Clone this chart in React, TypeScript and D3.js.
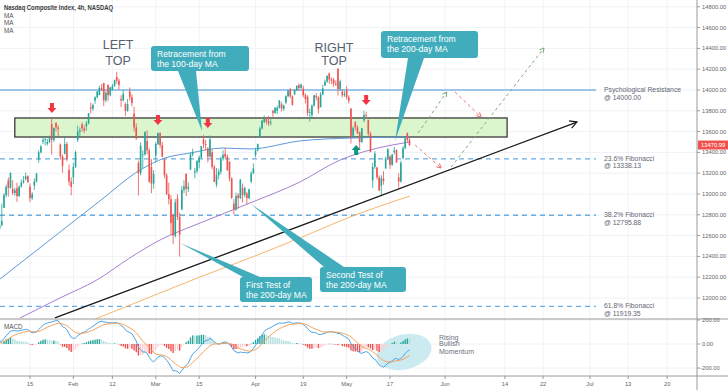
import React from "react";
import * as d3 from "d3";

type Bar = [number, number, number, number]; // open, high, low, close
type Pt = [number, number]; // trading day index, price

// 4h bars, two per trading session (morning / afternoon), Jan 4 -> May 21 2021
const janBars: Bar[] = [
  [12958, 12958, 12600, 12640], [12640, 12720, 12543, 12698],
  [12665, 12760, 12665, 12740], [12740, 12828, 12720, 12818],
  [12667, 12800, 12649, 12700], [12700, 12909, 12690, 12740],
  [12867, 13010, 12867, 12990], [12990, 13091, 12970, 13067],
  [13131, 13160, 12975, 13060], [13060, 13208, 13050, 13202],
  [13049, 13134, 12990, 13010], [13010, 13060, 12984, 13036],
  [13056, 13108, 12925, 12980], [12980, 13080, 12970, 13072],
  [13072, 13140, 13061, 13110], [13110, 13173, 13100, 13128],
  [13143, 13205, 13130, 13170], [13170, 13180, 13112, 13112],
  [13070, 13101, 12922, 12960], [12960, 13020, 12940, 12998],
  [13080, 13150, 13040, 13120], [13120, 13204, 13110, 13197],
  [13329, 13420, 13300, 13400], [13400, 13471, 13390, 13457],
  [13504, 13550, 13480, 13520], [13520, 13545, 13466, 13530],
  [13482, 13530, 13465, 13500], [13500, 13562, 13490, 13543],
  [13672, 13728, 13380, 13520], [13520, 13640, 13500, 13635],
  [13683, 13692, 13600, 13640], [13640, 13660, 13555, 13626],
  [13474, 13487, 13330, 13360], [13360, 13380, 13204, 13271],
  [13388, 13542, 13380, 13480], [13480, 13500, 13315, 13337],
  [13232, 13283, 13080, 13120], [13120, 13160, 12987, 13070],
];

const febBars: Bar[] = [
  [13161, 13300, 13095, 13260], [13260, 13418, 13250, 13403],
  [13518, 13659, 13500, 13600], [13600, 13640, 13560, 13612],
  [13670, 13688, 13600, 13630], [13630, 13660, 13586, 13610],
  [13652, 13700, 13607, 13680], [13680, 13777, 13670, 13777],
  [13834, 13878, 13773, 13820], [13820, 13870, 13800, 13856],
  [13898, 13940, 13867, 13930], [13930, 13987, 13920, 13987],
  [13951, 14040, 13951, 14020], [14020, 14058, 13990, 14007],
  [14068, 14068, 13844, 13900], [13900, 13990, 13880, 13972],
  [14048, 14054, 13895, 13950], [13950, 14030, 13940, 14025],
  [14001, 14060, 13996, 14040], [14040, 14100, 14030, 14095],
  [14124, 14175, 14060, 14090], [14090, 14110, 14003, 14047],
  [13914, 13950, 13836, 13900], [13900, 14002, 13890, 13965],
  [13865, 13880, 13749, 13800], [13800, 13915, 13790, 13865],
  [13987, 14025, 13900, 13930], [13930, 13960, 13843, 13874],
  [13773, 13839, 13600, 13640], [13640, 13680, 13521, 13533],
  [13297, 13320, 12987, 13200], [13200, 13497, 13180, 13465],
  [13375, 13420, 13248, 13380], [13380, 13602, 13370, 13597],
  [13510, 13612, 13380, 13420], [13420, 13440, 13107, 13119],
  [13257, 13336, 13008, 13100], [13100, 13230, 13050, 13192],
];

const marBars: Bar[] = [
  [13369, 13500, 13302, 13480], [13480, 13588, 13470, 13588],
  [13583, 13594, 13440, 13470], [13470, 13500, 13355, 13358],
  [13331, 13339, 13150, 13180], [13180, 13200, 12990, 12998],
  [12998, 13110, 12900, 12950], [12950, 12990, 12606, 12723],
  [12799, 12810, 12517, 12600], [12600, 12952, 12580, 12920],
  [12957, 12999, 12750, 12780], [12780, 12820, 12397, 12609],
  [12849, 13080, 12849, 13040], [13040, 13131, 13010, 13073],
  [13193, 13201, 12981, 13050], [13050, 13110, 13020, 13068],
  [13233, 13400, 13233, 13380], [13380, 13436, 13360, 13398],
  [13207, 13250, 13152, 13220], [13220, 13320, 13200, 13320],
  [13304, 13370, 13248, 13350], [13350, 13460, 13340, 13460],
  [13524, 13566, 13440, 13480], [13480, 13520, 13419, 13471],
  [13438, 13450, 13302, 13360], [13360, 13563, 13350, 13525],
  [13402, 13427, 13240, 13260], [13260, 13280, 13114, 13116],
  [13089, 13251, 13065, 13180], [13180, 13240, 13140, 13215],
  [13213, 13360, 13188, 13340], [13340, 13420, 13320, 13377],
  [13387, 13444, 13340, 13360], [13360, 13380, 13225, 13228],
  [13311, 13312, 13120, 13150], [13150, 13160, 12953, 12962],
  [12909, 12950, 12806, 12850], [12850, 13014, 12840, 12978],
  [12989, 13010, 12860, 12960], [12960, 13141, 12950, 13139],
  [13055, 13100, 12919, 12990], [12990, 13070, 12970, 13059],
  [13004, 13020, 12901, 12960], [12960, 13050, 12950, 13045],
  [13119, 13220, 13104, 13200], [13200, 13295, 13190, 13247],
];

const aprBars: Bar[] = [
  [13376, 13440, 13351, 13420], [13420, 13486, 13410, 13480],
  [13550, 13650, 13541, 13630], [13630, 13712, 13620, 13705],
  [13694, 13756, 13680, 13720], [13720, 13740, 13669, 13698],
  [13702, 13751, 13654, 13680], [13680, 13720, 13660, 13688],
  [13797, 13810, 13742, 13780], [13780, 13833, 13770, 13830],
  [13800, 13850, 13770, 13830], [13830, 13901, 13820, 13900],
  [13861, 13883, 13794, 13820], [13820, 13860, 13800, 13850],
  [13879, 13950, 13863, 13940], [13940, 13997, 13930, 13996],
  [14006, 14021, 13920, 13940], [13940, 13950, 13850, 13857],
  [13958, 14010, 13950, 14000], [14000, 14045, 13990, 14039],
  [14046, 14064, 13990, 14020], [14020, 14060, 14010, 14052],
  [14012, 14041, 13930, 13950], [13950, 13970, 13872, 13914],
  [13934, 13949, 13750, 13780], [13780, 13820, 13697, 13787],
  [13757, 13860, 13728, 13850], [13850, 13950, 13840, 13950],
  [13944, 13971, 13900, 13930], [13930, 13940, 13775, 13818],
  [13837, 13980, 13830, 13960], [13960, 14050, 13950, 14016],
  [14043, 14100, 14040, 14080], [14080, 14138, 14070, 14138],
  [14161, 14167, 14060, 14100], [14100, 14120, 14056, 14090],
  [14100, 14116, 14030, 14060], [14060, 14090, 14040, 14051],
  [14204, 14211, 13946, 14010], [14010, 14100, 13990, 14082],
  [13983, 14006, 13931, 13950], [13950, 13990, 13935, 13962],
];

const mayBars: Bar[] = [
  [14002, 14036, 13910, 13930], [13930, 13950, 13869, 13895],
  [13822, 13822, 13485, 13560], [13560, 13650, 13540, 13633],
  [13689, 13700, 13610, 13640], [13640, 13660, 13582, 13582],
  [13594, 13600, 13431, 13500], [13500, 13632, 13490, 13632],
  [13708, 13800, 13691, 13760], [13760, 13790, 13720, 13752],
  [13713, 13714, 13560, 13580], [13580, 13600, 13402, 13402],
  [13131, 13300, 13058, 13260], [13260, 13412, 13240, 13389],
  [13255, 13262, 13140, 13160], [13160, 13180, 13032, 13032],
  [13081, 13180, 12987, 13150], [13150, 13220, 13090, 13124],
  [13248, 13360, 13238, 13340], [13340, 13439, 13330, 13430],
  [13361, 13370, 13242, 13280], [13280, 13385, 13270, 13379],
  [13403, 13453, 13380, 13420], [13420, 13430, 13302, 13303],
  [13160, 13200, 13060, 13120], [13120, 13320, 13110, 13299],
  [13345, 13460, 13333, 13440], [13440, 13555, 13430, 13535],
  [13585, 13592, 13500, 13520], [13520, 13540, 13462, 13470.99],
];

const bars: Bar[] = [...janBars, ...febBars, ...marBars, ...aprBars, ...mayBars];

// moving averages, [trading day, price]
const ma100: Pt[] = [
  [2.1, 12183], [13.6, 12558], [25.1, 12933], [34.4, 13231], [40.1, 13346],
  [45.9, 13394], [53.5, 13442], [59.7, 13433], [71.2, 13510], [82.8, 13538], [96.6, 13548],
];
const ma200: Pt[] = [
  [6.7, 11808], [15.9, 12000], [24.4, 12173], [32.0, 12385], [39.0, 12558],
  [48.2, 12721], [59.7, 12913], [71.2, 13115], [80.5, 13327], [87.4, 13423], [96.6, 13500],
];
const maLong: Pt[] = [
  [24.0, 11798], [36.7, 12010], [48.2, 12202], [59.7, 12385], [71.2, 12577], [82.8, 12779], [96.6, 12981],
];

const priceTicks = [12000, 12200, 12400, 12600, 12800, 13000, 13200, 13400, 13600, 13800, 14000, 14200, 14400, 14600, 14800];
const macdTicks = [200, 0, -200];
const xTicks: { label: string; day: number }[] = [
  { label: "15", day: 9 }, { label: "Feb", day: 19 }, { label: "12", day: 28 }, { label: "Mar", day: 38 },
  { label: "15", day: 48 }, { label: "Apr", day: 61 }, { label: "19", day: 72 }, { label: "May", day: 82 },
  { label: "17", day: 92 }, { label: "Jun", day: 104.7 }, { label: "14", day: 118.5 }, { label: "22", day: 127.3 },
  { label: "Jul", day: 138.1 }, { label: "13", day: 146.9 }, { label: "20", day: 155.9 },
];

const levels = [
  { name: "Psychological Resistance", value: 14000, solid: true },
  { name: "23.6% Fibonacci", value: 13338.13, solid: false },
  { name: "38.2% Fibonacci", value: 12795.88, solid: false },
  { name: "61.8% Fibonacci", value: 11919.35, solid: false },
];
const levelEndDay = 139.5;

const zoneDays: Pt = [5.5, 119];
const zonePrices: Pt = [13548, 13731];
const trendLine: Pt[] = [[14.75, 11808], [135.1, 13692]];
const bearPaths: Pt[][] = [
  [[97.8, 13471], [103.8, 13250]],
  [[107, 13981], [113, 13740]],
];
const bullPaths: Pt[][] = [
  [[98.5, 13587], [105.1, 13981]],
  [[106.1, 13260], [127.5, 14404]],
];
const downMarks: Pt[] = [[14.06, 13827], [38.5, 13712], [50, 13683], [86.5, 13904]];
const upMarks: Pt[] = [[84.2, 13423]];

const W = 728;
const H = 390;
const axisX = 697;
const paneBottom = 319;
const macdBottom = 376;
const teal = "#41adbc";
const font = "'Liberation Sans', Arial, sans-serif";

const x = d3.scaleLinear().domain([9, 92]).range([30, 390]);
const y = d3.scaleLinear().domain([12000, 14000]).range([298, 90]);
const ym = d3.scaleLinear().domain([-200, 200]).range([368, 320]);

function ema(vals: number[], n: number) {
  const k = 2 / (n + 1);
  const out: number[] = [];
  vals.forEach((v, i) => out.push(i === 0 ? v : v * k + out[i - 1] * (1 - k)));
  return out;
}

function arrowHead(x1: number, y1: number, x2: number, y2: number, s: number) {
  const a = Math.atan2(y2 - y1, x2 - x1);
  const p1 = [x2 - s * Math.cos(a - 0.5), y2 - s * Math.sin(a - 0.5)];
  const p2 = [x2 - s * Math.cos(a + 0.5), y2 - s * Math.sin(a + 0.5)];
  return `M${p1[0]},${p1[1]}L${x2},${y2}L${p2[0]},${p2[1]}`;
}

const callouts = [
  { lines: ["Retracement from", "the 100-day MA"], box: [151, 46, 98, 25], base: [178, 196], tip: [202, 131] },
  { lines: ["Retracement from", "the 200-day MA"], box: [381, 31, 97, 27], base: [408, 424], tip: [395, 141] },
  { lines: ["Second Test of", "the 200-day MA"], box: [320, 267, 86, 25], base: [324, 344], tip: [251, 204] },
  { lines: ["First Test of", "the 200-day MA"], box: [240, 277, 72, 25], base: [243, 260], tip: [180, 243] },
];

export default function App() {
  const closes = bars.map((b) => b[3]);
  const e12 = ema(closes, 12);
  const e26 = ema(closes, 26);
  const macd = closes.map((_, i) => e12[i] - e26[i]);
  const signal = ema(macd, 9);
  const hist = macd.map((m, i) => m - signal[i]);

  const maLine = d3.line<Pt>().x((d) => x(d[0])).y((d) => y(d[1])).curve(d3.curveMonotoneX);
  const macdLine = d3.line<number>().x((_, i) => x(i / 2)).y((d) => ym(d));

  const last = bars[bars.length - 1][3];

  return (
    <div style={{ position: "absolute", left: 0, top: 0 }}>
      <svg width={W} height={H} style={{ display: "block", background: "#fff", fontFamily: font }}>
        <defs>
          <clipPath id="pricePane"><rect x={0} y={0} width={axisX} height={paneBottom} /></clipPath>
          <clipPath id="macdPane"><rect x={0} y={paneBottom} width={axisX} height={macdBottom - paneBottom} /></clipPath>
        </defs>

        {/* grid */}
        {priceTicks.map((p) => (
          <line key={"hg" + p} x1={0} x2={axisX} y1={y(p)} y2={y(p)} stroke="#f0f2f6" />
        ))}
        {macdTicks.map((m) => (
          <line key={"mg" + m} x1={0} x2={axisX} y1={ym(m)} y2={ym(m)} stroke="#f0f2f6" />
        ))}
        {xTicks.map((t, i) => (
          <line key={"vg" + i} x1={x(t.day)} x2={x(t.day)} y1={0} y2={macdBottom} stroke="#f0f2f6" />
        ))}

        <g clipPath="url(#pricePane)">
          {/* resistance zone */}
          <rect x={x(zoneDays[0])} y={y(zonePrices[1])} width={x(zoneDays[1]) - x(zoneDays[0])}
            height={y(zonePrices[0]) - y(zonePrices[1])} fill="#dbf6cd" stroke="#2b2b2b" strokeWidth={1.2} />

          {levels.map((l) => (
            <line key={l.name} x1={0} x2={x(levelEndDay)} y1={y(l.value)} y2={y(l.value)}
              stroke={l.solid ? "#9cc6ea" : "#6aaee4"} strokeWidth={l.solid ? 2 : 1.3}
              strokeDasharray={l.solid ? undefined : "5 4"} />
          ))}

          <path d={maLine(maLong) || ""} fill="none" stroke="#f6b56e" strokeWidth={1} />
          <path d={maLine(ma200) || ""} fill="none" stroke="#a77fcf" strokeWidth={1} />
          <path d={maLine(ma100) || ""} fill="none" stroke="#5d9ad8" strokeWidth={1} />

          {/* candles */}
          {bars.map((b, i) => {
            const [o, h, l, c] = b;
            const cx = x(i / 2);
            const col = c >= o ? "#26a69a" : "#ef5350";
            const top = y(Math.max(o, c));
            const bot = y(Math.min(o, c));
            return (
              <g key={"c" + i}>
                <line x1={cx} x2={cx} y1={y(h)} y2={y(l)} stroke={col} strokeWidth={0.8} />
                <rect x={cx - 0.8} y={top} width={1.6} height={Math.max(0.8, bot - top)} fill={col} />
              </g>
            );
          })}

          {/* trend line */}
          <line x1={x(trendLine[0][0])} y1={y(trendLine[0][1])} x2={x(trendLine[1][0])} y2={y(trendLine[1][1])}
            stroke="#1a1a1a" strokeWidth={1.3} />
          <path d={arrowHead(x(trendLine[0][0]), y(trendLine[0][1]), x(trendLine[1][0]), y(trendLine[1][1]), 8)}
            fill="none" stroke="#1a1a1a" strokeWidth={1.2} />

          {/* projected paths */}
          {bearPaths.map((p, i) => (
            <g key={"bear" + i} stroke="#e8706f" strokeWidth={1} fill="none">
              <line x1={x(p[0][0])} y1={y(p[0][1])} x2={x(p[1][0])} y2={y(p[1][1])} strokeDasharray="3 3" />
              <path d={arrowHead(x(p[0][0]), y(p[0][1]), x(p[1][0]), y(p[1][1]), 5)} />
            </g>
          ))}
          {bullPaths.map((p, i) => (
            <g key={"bull" + i} stroke="#7fa97c" strokeWidth={1} fill="none">
              <line x1={x(p[0][0])} y1={y(p[0][1])} x2={x(p[1][0])} y2={y(p[1][1])} strokeDasharray="3 3" />
              <path d={arrowHead(x(p[0][0]), y(p[0][1]), x(p[1][0]), y(p[1][1]), 5)} />
            </g>
          ))}

          {downMarks.map((m, i) => (
            <path key={"dm" + i} transform={`translate(${x(m[0])},${y(m[1])})`}
              d="M-2,-5H2V0H4.5L0,5L-4.5,0H-2Z" fill="#f23645" />
          ))}
          {upMarks.map((m, i) => (
            <path key={"um" + i} transform={`translate(${x(m[0])},${y(m[1])})`}
              d="M-2,5H2V0H4.5L0,-5L-4.5,0H-2Z" fill="#089981" />
          ))}

          {/* callouts */}
          {callouts.map((c, i) => {
            const [bx, by, bw, bh] = c.box;
            const baseY = c.tip[1] > by ? by + bh : by;
            return (
              <g key={"co" + i}>
                <path d={`M${c.base[0]},${baseY}L${c.tip[0]},${c.tip[1]}L${c.base[1]},${baseY}Z`} fill={teal} />
                <rect x={bx} y={by} width={bw} height={bh} rx={3} fill={teal} />
                {c.lines.map((t, j) => (
                  <text key={j} x={bx + 6} y={by + 10.5 + j * 10} fill="#fff" fontSize={8.6}>{t}</text>
                ))}
              </g>
            );
          })}
        </g>

        {/* level labels */}
        {levels.map((l) => (
          <text key={"ll" + l.name} x={604} y={y(l.value) + 2} fill="#5f6673" fontSize={6.8}>
            <tspan x={604}>{l.name}</tspan>
            <tspan x={604} dy={7.5}>@ {l.value.toFixed(2)}</tspan>
          </text>
        ))}

        {/* head / tops */}
        <text x={4} y={10} fill="#3a3a3a" fontSize={6.6} fontWeight="bold" textLength={109} lengthAdjust="spacingAndGlyphs">
          Nasdaq Composite Index, 4h, NASDAQ
        </text>
        {[0, 1, 2].map((i) => (
          <text key={"ma" + i} x={4} y={17.5 + i * 7.6} fill="#555" fontSize={6.3}>MA</text>
        ))}
        <g fill="#566170" fontSize={12.5} textAnchor="middle">
          <text x={118} y={48.5}>LEFT</text>
          <text x={118} y={65}>TOP</text>
          <text x={334} y={51.5}>RIGHT</text>
          <text x={334} y={65}>TOP</text>
        </g>

        {/* MACD pane */}
        <ellipse cx={404} cy={352} rx={28} ry={17.5} transform="rotate(-14 404 352)" fill="#c3e8ef" opacity={0.85} />
        <g clipPath="url(#macdPane)">
          {hist.map((h, i) => {
            const prev = i > 0 ? hist[i - 1] : h;
            const col = h >= 0 ? (h >= prev ? "#26a69a" : "#b2dfdb") : (h <= prev ? "#ef5350" : "#ffcdd2");
            const y0 = ym(0);
            const y1 = ym(h);
            return <rect key={"h" + i} x={x(i / 2) - 0.7} y={Math.min(y0, y1)} width={1.4} height={Math.max(0.5, Math.abs(y1 - y0))} fill={col} />;
          })}
          <path d={macdLine(macd) || ""} fill="none" stroke="#4aa3e6" strokeWidth={1} />
          <path d={macdLine(signal) || ""} fill="none" stroke="#f5a25a" strokeWidth={1} />
        </g>
        <text x={4} y={328.5} fill="#555" fontSize={6.3}>MACD</text>
        <g fill="#6b7280" fontSize={7}>
          <text x={439} y={339.5}>Rising</text>
          <text x={439} y={346}>Bullish</text>
          <text x={439} y={353.5}>Momentum</text>
        </g>

        {/* frames */}
        <line x1={0} x2={W} y1={paneBottom} y2={paneBottom} stroke="#9a9a9a" strokeWidth={1} />
        <line x1={0} x2={W} y1={macdBottom} y2={macdBottom} stroke="#9a9a9a" strokeWidth={1} />
        <line x1={axisX} x2={axisX} y1={0} y2={H} stroke="#9a9a9a" strokeWidth={1} />

        {/* price axis */}
        {priceTicks.map((p) => (
          <g key={"pt" + p}>
            <line x1={axisX} x2={axisX + 3} y1={y(p)} y2={y(p)} stroke="#9a9a9a" />
            <text x={702} y={y(p) + 2} fill="#666" fontSize={5.8}>{p.toFixed(2)}</text>
          </g>
        ))}
        {macdTicks.map((m) => (
          <g key={"mt" + m}>
            <line x1={axisX} x2={axisX + 3} y1={ym(m)} y2={ym(m)} stroke="#9a9a9a" />
            <text x={m < 0 ? 700 : 702} y={ym(m) + 2} fill="#666" fontSize={5.8}>{m.toFixed(2)}</text>
          </g>
        ))}
        <rect x={axisX + 1} y={y(last) - 4.5} width={W - axisX - 1} height={9} fill="#ef5350" />
        <text x={701} y={y(last) + 2} fill="#fff" fontSize={5.8}>{last.toFixed(2)}</text>

        {/* time axis */}
        {xTicks.map((t, i) => (
          <g key={"xt" + i}>
            <line x1={x(t.day)} x2={x(t.day)} y1={macdBottom} y2={macdBottom + 3} stroke="#9a9a9a" />
            <text x={x(t.day)} y={385.5} fill="#666" fontSize={5.8} textAnchor="middle">{t.label}</text>
          </g>
        ))}
      </svg>
    </div>
  );
}
